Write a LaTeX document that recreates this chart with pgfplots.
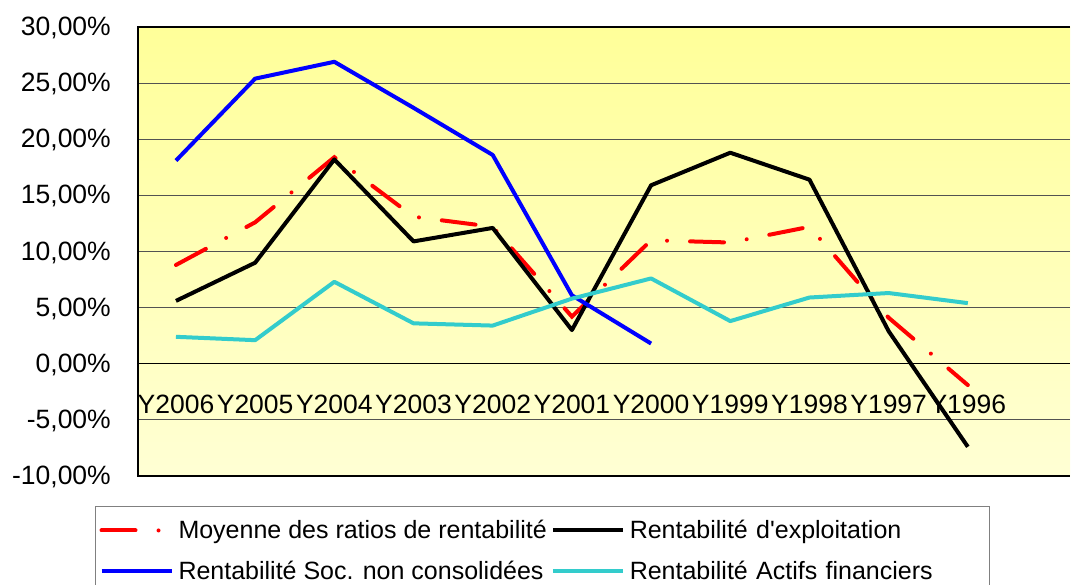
\documentclass[border=0pt]{standalone}
\usepackage{pgfplots}
\pgfplotsset{compat=1.18}
\usepackage{fontspec}
\setmainfont{Liberation Sans}
\newfontfamily\plainsans{Liberation Sans}
\definecolor{cyanx}{RGB}{51,204,204}
\definecolor{bgtop}{RGB}{255,255,153}
\definecolor{bgbot}{RGB}{255,255,212}
\begin{document}
\begin{tikzpicture}[x=1pt,y=1pt]
\path[use as bounding box] (0,0) rectangle (1072,-585);
\begin{axis}[
  at={(137pt,-476pt)}, anchor=south west,
  scale only axis, width=933pt, height=449pt,
  xmin=-0.492, xmax=11.29, ymin=-10, ymax=30,
  axis line style={draw=none},
  axis background/.style={top color=bgtop, bottom color=bgbot},
  tick style={draw=none},
  ytick={-10,-5,0,5,10,15,20,25,30},
  yticklabels={{-10,00\%},{-5,00\%},{0,00\%},{5,00\%},{10,00\%},{15,00\%},{20,00\%},{25,00\%},{30,00\%}},
  xtick={0,1,2,3,4,5,6,7,8,9,10},
  xticklabels={Y2006,Y2005,Y2004,Y2003,Y2002,Y2001,Y2000,Y1999,Y1998,Y1997,Y1996},
  tick label style={font=\fontsize{26.5}{30}\selectfont},
  yticklabel style={anchor=east, inner xsep=0pt, xshift=-26pt, yshift=-1pt},
  xticklabel style={anchor=base, inner sep=0pt, yshift=63pt},
  ymajorgrids, major grid style={draw=black!68, line width=1pt},
  extra y ticks={0}, extra y tick labels={},
  extra y tick style={grid=major, major grid style={draw=black, line width=1pt}},
  legend columns=2,
  legend style={at={(axis description cs:-0.045,-0.0668)}, anchor=north west,
    draw=gray, line width=1pt, fill=white,
    font=\fontsize{25}{28}\selectfont,
    inner xsep=4pt, inner ysep=12pt, row sep=17pt,
    /tikz/every odd column/.append style={column sep=3pt},
    /tikz/every even column/.append style={column sep=2pt},
    /tikz/column 4/.append style={nodes={text width=354pt, align=left}}},
  legend cell align=left,
  legend image code/.code={\draw[#1] (0pt,0pt) -- (70pt,0pt);},
]
\addplot[red, line width=4pt, line cap=round, dash pattern=on 34pt off 23pt on 0pt off 23pt]
  coordinates {(0,8.8) (1,12.6) (2,18.4) (3,13.1) (4,12.2) (5,4.2) (6,11.0) (7,10.8) (8,12.2) (9,4.1) (10,-1.9)};
\addlegendentry{Moyenne des ratios de rentabilité}
\addplot[black, line width=4pt, line join=round]
  coordinates {(0,5.6) (1,9.0) (2,18.2) (3,10.9) (4,12.1) (5,3.0) (6,15.9) (7,18.8) (8,16.4) (9,2.9) (10,-7.4)};
\addlegendentry{Rentabilité d{\plainsans '}exploitation}
\addplot[blue, line width=4pt, line join=round]
  coordinates {(0,18.1) (1,25.4) (2,26.9) (3,22.8) (4,18.6) (5,6.1) (6,1.8)};
\addlegendentry{Rentabilité Soc. non consolidées}
\addplot[cyanx, line width=4pt, line join=round]
  coordinates {(0,2.4) (1,2.1) (2,7.3) (3,3.6) (4,3.4) (5,5.8) (6,7.6) (7,3.8) (8,5.9) (9,6.3) (10,5.4)};
\addlegendentry{Rentabilité Actifs financiers}
\draw[black, line width=3pt] (rel axis cs:1,1) -- (rel axis cs:0,1) -- (rel axis cs:0,0) -- (rel axis cs:1,0);
\end{axis}
\end{tikzpicture}
\end{document}
